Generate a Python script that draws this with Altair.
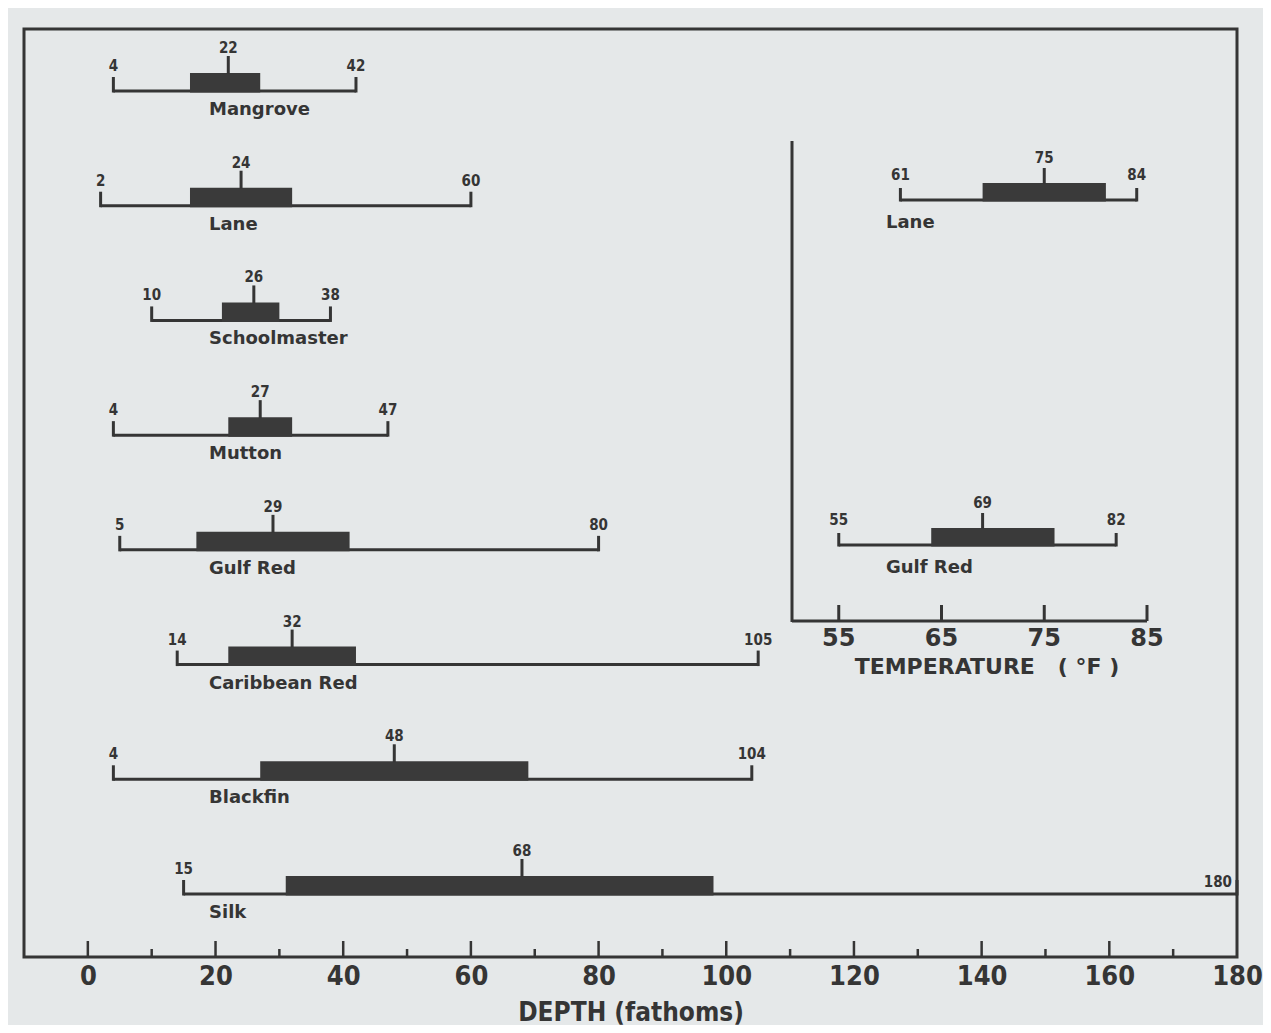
import altair as alt
import pandas as pd

# ---------------- data ----------------
species = ["Mangrove", "Lane", "Schoolmaster", "Mutton", "Gulf Red",
           "Caribbean Red", "Blackfin", "Silk"]
depth_min = [4, 2, 10, 4, 5, 14, 4, 15]
depth_max = [42, 60, 38, 47, 80, 105, 104, 180]
depth_median = [22, 24, 26, 27, 29, 32, 48, 68]
depth_bar_lo = [16, 16, 21, 22, 17, 22, 27, 31]
depth_bar_hi = [27, 32, 30, 32, 41, 42, 69, 98]

temp_species = ["Lane", "Gulf Red"]
temp_min = [61, 55]
temp_max = [84, 82]
temp_median = [75, 69]
temp_bar_lo = [69, 64]
temp_bar_hi = [81, 76]

depth_tick_labels = [0, 20, 40, 60, 80, 100, 120, 140, 160, 180]
depth_major_ticks = [0, 20, 40, 60, 80, 100, 120, 140, 160]
depth_minor_ticks = [10, 30, 50, 70, 90, 110, 130, 150, 170]
temp_ticks = [55, 65, 75, 85]
temp_title = "TEMPERATURE\u00a0\u00a0\u00a0(\u00a0°F\u00a0)"

# ---------------- style / layout ----------------
W, H = 1213, 928
INK = "#353535"
BAR = "#3a3a3a"
BG = "#e5e8e9"
NUM_FONT = "Liberation Sans Narrow, DejaVu Sans Condensed, Roboto Condensed, Liberation Sans, sans-serif"
NAME_FONT = "DejaVu Sans, Verdana, sans-serif"

depth_df = pd.DataFrame({
    "species": species, "row": list(range(len(species))),
    "lo": depth_min, "hi": depth_max, "med": depth_median,
    "q1": depth_bar_lo, "q3": depth_bar_hi,
})
temp_df = pd.DataFrame({
    "species": temp_species, "row": list(range(len(temp_species))),
    "lo": temp_min, "hi": temp_max, "med": temp_median,
    "q1": temp_bar_lo, "q3": temp_bar_hi,
})

depth_x = alt.Scale(domain=[-10, 180], nice=False, zero=False)
depth_y = alt.Scale(domain=[0, 7], range=[62, 865])
TEMP_DOMAIN = [50.45, 85]
temp_x = alt.Scale(domain=TEMP_DOMAIN, range=[768, 1123], nice=False, zero=False)
temp_y = alt.Scale(domain=[0, 1], range=[171, 516])

depth_axis = alt.Axis(
    values=depth_tick_labels, ticks=False, domain=False, grid=False,
    labelFont=NUM_FONT, labelFontSize=27, labelFontWeight="bold",
    labelColor=INK, labelPadding=6, labelFlush=False, labelOverlap=False,
    title="DEPTH  (fathoms)", titleFont=NUM_FONT, titleFontSize=26,
    titleFontWeight="bold", titleColor=INK, titlePadding=10,
)


def range_rows(df, xsc, ysc, xaxis, s):
    b = alt.Chart(df)

    def X(f):
        if xaxis is None:
            return alt.X(f, type="quantitative", scale=xsc, axis=None)
        return alt.X(f, type="quantitative", scale=xsc, axis=xaxis)

    def Y():
        return alt.Y("row:Q", scale=ysc, axis=None)

    ends = b.transform_fold(["lo", "hi"], as_=["end", "val"])
    layers = [
        b.mark_rule(color=INK, strokeWidth=3).encode(x=X("lo"), x2="hi:Q", y=Y()),
        ends.mark_rule(color=INK, strokeWidth=3, yOffset=-s["end_tick"], y2Offset=1.5)
            .encode(x=X("val"), y=Y(), y2="row:Q"),
        b.mark_rect(color=BAR, yOffset=-s["bar"], y2Offset=1.5)
            .encode(x=X("q1"), x2="q3:Q", y=Y(), y2="row:Q"),
        b.mark_rule(color=INK, strokeWidth=3, yOffset=-s["med_top"], y2Offset=-s["bar"] + 1)
            .encode(x=X("med"), y=Y(), y2="row:Q"),
        b.mark_text(font=NUM_FONT, fontSize=s["num_fs"], fontWeight="bold", color=INK,
                    baseline="middle", dy=-s["med_lab"])
            .encode(x=X("med"), y=Y(), text=alt.Text("med:Q", format="d")),
        ends.transform_filter("datum.val < 180")
            .mark_text(font=NUM_FONT, fontSize=s["num_fs"], fontWeight="bold", color=INK,
                       baseline="middle", dy=-s["end_lab"])
            .encode(x=X("val"), y=Y(), text=alt.Text("val:Q", format="d")),
        b.mark_text(font=NAME_FONT, fontSize=s["name_fs"], fontWeight="bold", color=INK,
                    align="left", baseline="middle", dy=s["name"])
            .encode(x=alt.value(s["name_x"]), y=Y(), text="species:N"),
    ]
    if s.get("edge"):
        layers.append(
            ends.transform_filter("datum.val >= 180")
            .mark_text(font=NUM_FONT, fontSize=s["num_fs"], fontWeight="bold", color=INK,
                       baseline="middle", align="right", dx=-5, dy=-12)
            .encode(x=X("val"), y=Y(), text=alt.Text("val:Q", format="d")))
    return layers


main_style = dict(end_tick=14, bar=18, med_top=35, med_lab=43, end_lab=25,
                  num_fs=15, name=19, name_x=185, name_fs=18, edge=True)
temp_style = dict(end_tick=12, bar=17, med_top=32, med_lab=42, end_lab=25,
                  num_fs=15, name=23, name_x=862, name_fs=18, edge=False)

main_layers = range_rows(depth_df, depth_x, depth_y, depth_axis, main_style)

major_df = pd.DataFrame({"t": depth_major_ticks})
minor_df = pd.DataFrame({"t": depth_minor_ticks})
main_layers.append(
    alt.Chart(major_df).mark_rule(color=INK, strokeWidth=2.5).encode(
        x=alt.X("t:Q", scale=depth_x, axis=depth_axis),
        y=alt.value(H), y2=alt.value(H - 16)))
main_layers.append(
    alt.Chart(minor_df).mark_rule(color=INK, strokeWidth=2.5).encode(
        x=alt.X("t:Q", scale=depth_x, axis=depth_axis),
        y=alt.value(H), y2=alt.value(H - 8)))

main = alt.layer(*main_layers)

# ---------------- temperature inset ----------------
temp_layers = range_rows(temp_df, temp_x, temp_y, None, temp_style)
tt_df = pd.DataFrame({"t": temp_ticks})
frame_df = pd.DataFrame({"a": [TEMP_DOMAIN[0]], "b": [TEMP_DOMAIN[1]],
                         "title": [temp_title]})
tx = alt.X("t:Q", scale=temp_x, axis=None)
temp_layers += [
    alt.Chart(frame_df).mark_rule(color=INK, strokeWidth=3).encode(
        x=alt.X("a:Q", scale=temp_x, axis=None), y=alt.value(112), y2=alt.value(593)),
    alt.Chart(frame_df).mark_rule(color=INK, strokeWidth=3).encode(
        x=alt.X("a:Q", scale=temp_x, axis=None), x2="b:Q", y=alt.value(592)),
    alt.Chart(tt_df).mark_rule(color=INK, strokeWidth=3).encode(
        x=tx, y=alt.value(592), y2=alt.value(576)),
    alt.Chart(tt_df).mark_text(font=NAME_FONT, fontSize=24, fontWeight="bold", color=INK,
                                baseline="middle").encode(
        x=tx, y=alt.value(610), text=alt.Text("t:Q", format="d")),
    alt.Chart(frame_df).mark_text(
        font=NAME_FONT, fontSize=22, fontWeight="bold", color=INK, baseline="middle").encode(
        x=alt.value(963), y=alt.value(638), text="title:N"),
]
inset = alt.layer(*temp_layers)

chart = alt.layer(main, inset).resolve_scale(x="independent", y="independent").properties(
    width=W, height=H,
    autosize=alt.AutoSizeParams(type="none"),
    padding={"left": 16, "top": 21, "right": 26, "bottom": 68},
    background=BG,
).configure_view(stroke=INK, strokeWidth=3)

chart.save("out.html", embed_options={"renderer": "svg", "actions": False})
